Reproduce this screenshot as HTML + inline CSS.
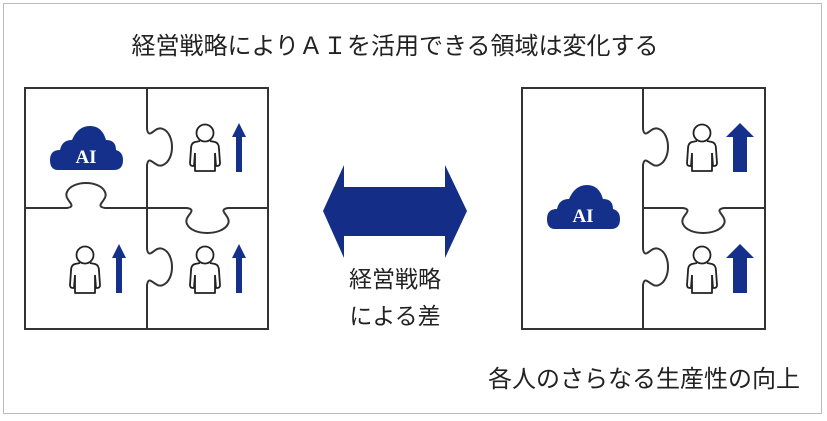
<!DOCTYPE html>
<html><head><meta charset="utf-8"><style>
body{margin:0;background:#fff;}
svg{display:block;}
text{font-family:"Liberation Sans","Noto Sans CJK JP",sans-serif;fill:#222;}
</style></head><body>
<svg width="827" height="421" viewBox="0 0 827 421" xmlns="http://www.w3.org/2000/svg">
<defs>
<g id="person">
 <circle cx="0" cy="-12" r="8.5" fill="none" stroke="#222" stroke-width="1.8"/>
 <path d="M-5,-4 L-10,-3 Q-14,-2 -14,4 L-15,18 Q-15,21 -12,21 L-11,21 L-10,8 M-10,8 L-10,26 L10,26 L10,8 M10,8 L11,21 L12,21 Q15,21 15,18 L14,4 Q14,-2 10,-3 L5,-4" fill="none" stroke="#222" stroke-width="1.8" stroke-linejoin="round"/>
</g>
<g id="cloud">
 <path d="M-28,22 Q-36,22 -36,12 Q-36,2 -26,2 Q-24,-8 -14,-8 Q-8,-22 4,-22 Q16,-22 20,-8 Q30,-8 30,2 Q37,4 37,12 Q37,22 28,22 Z" fill="#15308a"/>
 <text x="0" y="15" text-anchor="middle" font-size="19" font-weight="bold" style="fill:#fff;font-family:'Liberation Serif',serif">AI</text>
</g>
</defs>
<rect x="3.5" y="3.5" width="818" height="410" fill="none" stroke="#bbb" stroke-width="1"/>
<text x="395" y="54" text-anchor="middle" font-size="24">経営戦略によりＡＩを活用できる領域は変化する</text>

<!-- left puzzle -->
<g fill="none" stroke="#333" stroke-width="2">
<rect x="25" y="88" width="243" height="241"/>
<path d="M147,88 L147,129 C149,141 155,125 163,129 C175,134 175,160 163,165 C155,169 149,153 147,165 L147,249 C149,261 155,245 163,249 C175,254 175,280 163,285 C155,289 149,273 147,285 L147,329"/>
<path d="M25,208 L67,208 C79,206 63,200 67,192 C72,180 100,180 105,192 C109,200 93,206 105,208 L187,208 C199,210 183,216 187,224 C192,236 222,236 228,224 C232,216 216,210 228,208 L268,208"/>
</g>
<use href="#cloud" x="86" y="148"/>
<use href="#person" x="205" y="145"/>
<use href="#person" x="85" y="267"/>
<use href="#person" x="205" y="267"/>
<g fill="#15308a">
<path d="M239,123 L246,137 L242,137 L242,172 L236,172 L236,137 L232,137 Z"/>
<path d="M119,244 L126,258 L122,258 L122,293 L116,293 L116,258 L112,258 Z"/>
<path d="M239,244 L246,258 L242,258 L242,293 L236,293 L236,258 L232,258 Z"/>
</g>

<!-- arrow -->
<path d="M323,211 L344,165 L344,187 L445,187 L445,165 L467,211 L445,258 L445,236 L344,236 L344,258 Z" fill="#142d87"/>
<text x="395" y="287" text-anchor="middle" font-size="23">経営戦略</text>
<text x="395" y="324" text-anchor="middle" font-size="23">による差</text>

<!-- right puzzle -->
<g fill="none" stroke="#333" stroke-width="2">
<rect x="522" y="88" width="243" height="241"/>
<path d="M643,88 L643,129 C645,141 651,125 659,129 C671,134 671,160 659,165 C651,169 645,153 643,165 L643,249 C645,261 651,245 659,249 C671,254 671,280 659,285 C651,289 645,273 643,285 L643,329"/>
<path d="M643,208 L683,208 C695,210 679,216 683,224 C688,236 718,236 724,224 C728,216 712,210 724,208 L765,208"/>
</g>
<use href="#cloud" x="583" y="207"/>
<use href="#person" x="702" y="145"/>
<use href="#person" x="702" y="267"/>
<g fill="#15308a">
<path d="M740,123 L754,137 L747,137 L747,172 L733,172 L733,137 L726,137 Z"/>
<path d="M740,244 L754,258 L747,258 L747,293 L733,293 L733,258 L726,258 Z"/>
</g>
<text x="644" y="387" text-anchor="middle" font-size="24">各人のさらなる生産性の向上</text>
</svg>
</body></html>
